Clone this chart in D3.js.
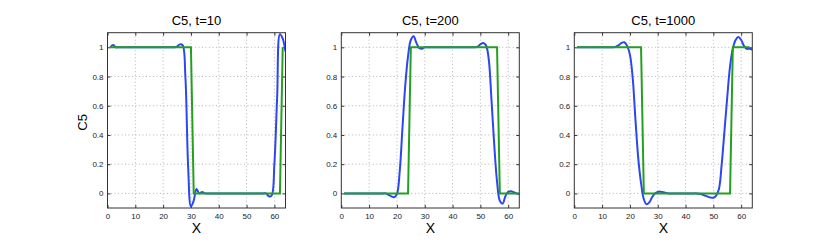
<!DOCTYPE html>
<html>
<head>
<meta charset="utf-8">
<script src="https://cdn.jsdelivr.net/npm/d3@7"></script>
<style>
  body { margin: 0; background: #fff; }
  svg { display: block; font-family: "Liberation Sans", Arial, sans-serif; }
</style>
</head>
<body>
<div id="d3"></div>
<script>
const gridX = [1, 2, 3, 4, 5, 6, 7, 8, 9, 10, 11, 12, 13, 14, 15, 16, 17, 18, 19, 20,
    21, 22, 23, 24, 25, 26, 27, 28, 29, 30, 31, 32, 33, 34, 35, 36, 37, 38, 39, 40,
    41, 42, 43, 44, 45, 46, 47, 48, 49, 50, 51, 52, 53, 54, 55, 56, 57, 58, 59, 60,
    61, 62, 63, 64];

const titles = ["C5, t=10", "C5, t=200", "C5, t=1000"];
const xTicks = [0, 10, 20, 30, 40, 50, 60];
const yTicks = [0, 0.2, 0.4, 0.6, 0.8, 1];
const yTickLabels = ["0", "0.2", "0.4", "0.6", "0.8", "1"];

// numerical solution (blue)
const numT10 = [1.0, 1.015, 1.0, 1.0, 1.0, 1.0, 1.0, 1.0, 1.0, 1.0,
    1.0, 1.0, 1.0, 1.0, 1.0, 1.0, 1.0, 1.0, 1.0, 1.0,
    1.0, 1.0, 1.0, 1.0, 1.005, 1.02, 1.015, 0.8, 0.18, -0.09,
    -0.05, 0.03, 0.0, 0.01, 0.0, 0, 0, 0, 0, 0,
    0, 0, 0, 0, 0, 0, 0, 0, 0, 0,
    0, 0, 0, 0, 0, 0, 0.0, -0.02, -0.015, 0.2,
    0.66, 1.09, 1.06, 0.97];
const numT200 = [0, 0, 0, 0, 0, 0, 0, 0, 0, 0,
    0, 0, 0, 0, 0, 0.0, -0.01, -0.02, -0.027, -0.005,
    0.15, 0.45, 0.74, 0.94, 1.05, 1.075, 1.03, 0.995, 0.99, 1.0,
    1.0, 1.0, 1.0, 1.0, 1.0, 1.0, 1.0, 1.0, 1.0, 1.0,
    1.0, 1.0, 1.0, 1.0, 1.0, 1.0, 1.0, 1.0, 1.005, 1.02,
    1.03, 1.015, 0.92, 0.64, 0.33, 0.08, -0.05, -0.07, -0.02, 0.01,
    0.015, 0.008, 0.0, -0.005];
const numT1000 = [1.0, 1.0, 1.0, 1.0, 1.0, 1.0, 1.0, 1.0, 1.0, 1.0,
    1.0, 1.0, 1.0, 1.0, 1.005, 1.015, 1.03, 1.035, 1.01, 0.95,
    0.79, 0.5, 0.24, 0.07, -0.04, -0.075, -0.06, -0.025, 0.0, 0.01,
    0.012, 0.008, 0.003, 0, 0, 0, 0, 0, 0, 0,
    0, 0, 0, 0, -0.003, -0.008, -0.015, -0.022, -0.028, -0.03,
    -0.015, 0.03, 0.2, 0.43, 0.66, 0.87, 0.99, 1.05, 1.07, 1.05,
    1.01, 0.99, 0.99, 0.985];

// exact solution (green)
const exactT10 = [1, 1, 1, 1, 1, 1, 1, 1, 1, 1, 1, 1, 1, 1, 1, 1, 1, 1, 1, 1,
    1, 1, 1, 1, 1, 1, 1, 1, 1, 1, 0, 0, 0, 0, 0, 0, 0, 0, 0, 0,
    0, 0, 0, 0, 0, 0, 0, 0, 0, 0, 0, 0, 0, 0, 0, 0, 0, 0, 0, 0,
    0, 0, 1];
const exactT200 = [0, 0, 0, 0, 0, 0, 0, 0, 0, 0, 0, 0, 0, 0, 0, 0, 0, 0, 0, 0,
    0, 0, 0, 0, 1, 1, 1, 1, 1, 1, 1, 1, 1, 1, 1, 1, 1, 1, 1, 1,
    1, 1, 1, 1, 1, 1, 1, 1, 1, 1, 1, 1, 1, 1, 1, 1, 0, 0, 0, 0,
    0, 0, 0, 0];
const exactT1000 = [1, 1, 1, 1, 1, 1, 1, 1, 1, 1, 1, 1, 1, 1, 1, 1, 1, 1, 1, 1,
    1, 1, 1, 1, 0, 0, 0, 0, 0, 0, 0, 0, 0, 0, 0, 0, 0, 0, 0, 0,
    0, 0, 0, 0, 0, 0, 0, 0, 0, 0, 0, 0, 0, 0, 0, 0, 1, 1, 1, 1,
    1, 1, 1];

const numSeries = [numT10, numT200, numT1000];
const exactSeries = [exactT10, exactT200, exactT1000];

const width = 830, height = 250;
const panelLeft = [107.5, 341.3, 574.3];
const panelW = 178, plotTop = 32.7, plotBottom = 208;

const svg = d3.select("#d3").append("svg")
    .attr("width", width)
    .attr("height", height);

const y = d3.scaleLinear().domain([-0.1, 1.1]).range([plotBottom, plotTop]);

titles.forEach((title, i) => {
    const left = panelLeft[i];
    const x = d3.scaleLinear().domain([0, 64]).range([left, left + panelW]);
    const g = svg.append("g");

    g.append("clipPath").attr("id", "clip" + i)
        .append("rect")
        .attr("x", left).attr("y", plotTop)
        .attr("width", panelW).attr("height", plotBottom - plotTop);

    // dotted grid
    g.selectAll(".gx").data(xTicks.slice(1)).enter().append("line")
        .attr("x1", d => x(d)).attr("x2", d => x(d))
        .attr("y1", plotTop).attr("y2", plotBottom)
        .attr("stroke", "#b4b4b4").attr("stroke-width", 1)
        .attr("stroke-dasharray", "1,2.5");
    g.selectAll(".gy").data(yTicks).enter().append("line")
        .attr("x1", left).attr("x2", left + panelW)
        .attr("y1", d => y(d)).attr("y2", d => y(d))
        .attr("stroke", "#b4b4b4").attr("stroke-width", 1)
        .attr("stroke-dasharray", "1,2.5");

    // axes with inward ticks
    const axB = g.append("g").attr("transform", `translate(0,${plotBottom})`)
        .call(d3.axisBottom(x).tickValues(xTicks).tickSizeInner(-3).tickSizeOuter(0).tickPadding(5));
    const axT = g.append("g").attr("transform", `translate(0,${plotTop})`)
        .call(d3.axisTop(x).tickValues(xTicks).tickSizeInner(-3).tickSizeOuter(0).tickFormat(""));
    const axL = g.append("g").attr("transform", `translate(${left},0)`)
        .call(d3.axisLeft(y).tickValues(yTicks).tickSizeInner(-3).tickSizeOuter(0).tickPadding(4)
            .tickFormat((d, k) => yTickLabels[k]));
    const axR = g.append("g").attr("transform", `translate(${left + panelW},0)`)
        .call(d3.axisRight(y).tickValues(yTicks).tickSizeInner(-3).tickSizeOuter(0).tickFormat(""));
    [axB, axT, axL, axR].forEach(a => {
        a.select(".domain").remove();
        a.selectAll("line").attr("stroke", "#333");
        a.selectAll("text").attr("font-size", 8).attr("fill", "#222")
            .attr("font-family", "Liberation Sans, Arial, sans-serif");
    });

    const line = d3.line()
        .x((d, k) => x(gridX[k]))
        .y(d => y(d));

    g.append("path")
        .datum(numSeries[i])
        .attr("clip-path", `url(#clip${i})`)
        .attr("fill", "none")
        .attr("stroke", "#2b46f2")
        .attr("stroke-width", 2)
        .attr("stroke-linejoin", "round")
        .attr("d", line.curve(d3.curveCatmullRom.alpha(0.5)));

    g.append("path")
        .datum(exactSeries[i])
        .attr("clip-path", `url(#clip${i})`)
        .attr("fill", "none")
        .attr("stroke", "#24a020")
        .attr("stroke-width", 2)
        .attr("d", d3.line().x((d, k) => x(gridX[k])).y(d => y(d)));

    // box
    g.append("rect")
        .attr("x", left).attr("y", plotTop)
        .attr("width", panelW).attr("height", plotBottom - plotTop)
        .attr("fill", "none").attr("stroke", "#333").attr("stroke-width", 1);

    g.append("text")
        .attr("x", left + panelW / 2).attr("y", 25)
        .attr("text-anchor", "middle")
        .attr("font-size", 13)
        .text(title);

    g.append("text")
        .attr("x", left + panelW / 2).attr("y", 232.5)
        .attr("text-anchor", "middle")
        .attr("font-size", 14)
        .text("X");
});

svg.append("text")
    .attr("transform", `translate(87,${(plotTop + plotBottom) / 2 + 2}) rotate(-90)`)
    .attr("text-anchor", "middle")
    .attr("font-size", 13)
    .text("C5");
</script>
</body>
</html>
